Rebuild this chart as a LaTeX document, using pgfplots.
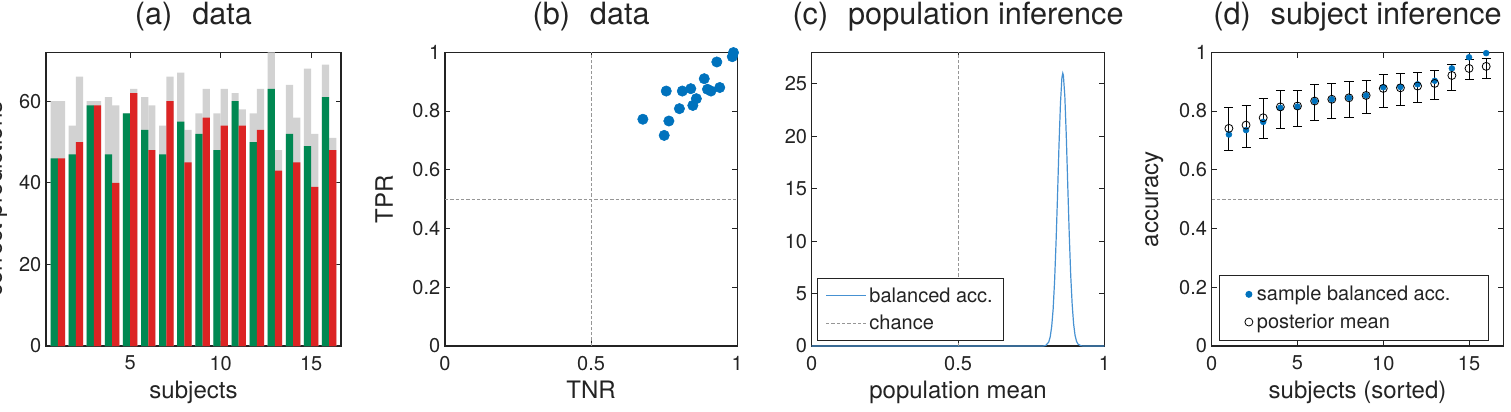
\documentclass[border=0pt]{standalone}
\usepackage{fontspec}
\setmainfont{TeX Gyre Heros}
\usepackage{pgfplots}
\usepackage{pgfplotstable}
\pgfplotsset{compat=1.18}
\definecolor{mgreen}{RGB}{0,136,82}
\definecolor{mred}{RGB}{220,36,36}
\definecolor{mgray}{RGB}{210,210,210}
\definecolor{mblue}{RGB}{0,114,189}
\definecolor{lblue}{RGB}{70,145,210}
\definecolor{dgray}{RGB}{150,150,150}
\definecolor{txt}{RGB}{35,35,35}

\pgfplotstableread{
x g gg r rg
1 46 60 46 60
2 47 54 50 66
3 59 60 59 60
4 47 61 40 59
5 57 57 62 63
6 53 61 48 59
7 47 54 60 66
8 55 67 45 53
9 52 57 56 63
10 48 57 54 63
11 60 62 54 58
12 50 57 53 63
13 63 72 43 48
14 52 64 45 56
15 49 68 39 52
16 61 69 48 51
}\bars

\pgfplotstableread{
tnr tpr
0.677 0.772
0.750 0.717
0.766 0.766
0.757 0.868
0.802 0.808
0.812 0.868
0.841 0.876
0.860 0.842
0.848 0.819
0.887 0.910
0.898 0.874
0.910 0.868
0.940 0.880
0.930 0.967
0.983 0.985
0.987 0.999
}\roc

\pgfplotstableread{
x y
0 0
0.79 0
0.80 0.05
0.81 0.38
0.815 0.87
0.82 1.84
0.825 3.5
0.83 6.2
0.835 9.9
0.84 14.3
0.845 19.1
0.85 23.1
0.855 25.6
0.858 26.0
0.86 25.8
0.865 23.8
0.87 20.0
0.875 15.3
0.88 10.7
0.885 6.8
0.89 4.0
0.895 2.1
0.90 1.0
0.905 0.45
0.91 0.18
0.92 0.02
0.93 0
1 0
}\post

\pgfplotstableread{
x s m ep em
1 0.720 0.741 0.071 0.076
2 0.735 0.752 0.068 0.076
3 0.763 0.777 0.066 0.072
4 0.811 0.814 0.057 0.073
5 0.815 0.817 0.054 0.070
6 0.834 0.834 0.056 0.067
7 0.840 0.840 0.054 0.067
8 0.845 0.845 0.055 0.067
9 0.853 0.853 0.052 0.063
10 0.881 0.877 0.046 0.064
11 0.882 0.879 0.048 0.059
12 0.891 0.885 0.047 0.056
13 0.903 0.894 0.043 0.056
14 0.945 0.921 0.036 0.050
15 0.983 0.945 0.032 0.039
16 0.997 0.952 0.026 0.042
}\subj

\pgfplotsset{
  mystyle/.style={
    scale only axis, height=220.3pt, anchor=north west,
    axis line style={line width=0.8pt, txt},
    tick style={txt, line width=0.6pt},
    major tick length=4pt, tick align=inside,
    every tick label/.append style={font=\fontsize{15}{15}\selectfont, text=txt},
    xticklabel style={yshift=-4pt},
    label style={font=\fontsize{18}{18}\selectfont, text=txt},
    title style={font=\fontsize{23}{23}\selectfont, text=txt, at={(0.5,1)}, anchor=base, yshift=15pt},
    xlabel style={at={(axis description cs:0.5,-0.18)}, anchor=base},
    /pgf/number format/assume math mode=true,
    legend cell align=left,
  },
  chance/.style={dgray, line width=0.7pt, dash pattern=on 2.5pt off 1.5pt},
  dotlegend/.style={legend image code/.code={\path[draw=none, fill=none] (0pt,-3pt) rectangle (19pt,3pt); \draw[##1] plot coordinates {(15pt,0pt)};}},
}

\begin{document}
\begin{tikzpicture}
\useasboundingbox (0pt,0pt) rectangle (1133.25pt,-308.25pt);

% (a)
\begin{axis}[mystyle, at={(34.5pt,-39.2pt)}, width=221.25pt,
  xmin=0.35, xmax=16.65, ymin=0, ymax=72,
  xtick={5,10,15}, ytick={0,20,40,60},
  title={(a)\hspace{0.65em}data}, xlabel={subjects}, ylabel={correct predictions},
  ylabel style={at={(axis description cs:-0.15,0.5)}, anchor=base}]
\addplot[ybar, bar width=0.4, bar shift=-0.2, fill=mgray, draw=none] table[x=x,y=gg] {\bars};
\addplot[ybar, bar width=0.4, bar shift=0.2, fill=mgray, draw=none] table[x=x,y=rg] {\bars};
\addplot[ybar, bar width=0.4, bar shift=-0.2, fill=mgreen, draw=none] table[x=x,y=g] {\bars};
\addplot[ybar, bar width=0.4, bar shift=0.2, fill=mred, draw=none] table[x=x,y=r] {\bars};
\end{axis}

% (b)
\begin{axis}[mystyle, at={(333.75pt,-39.2pt)}, width=219.2pt,
  xmin=0, xmax=1, ymin=0, ymax=1, clip=false,
  xtick={0,0.5,1}, ytick={0,0.2,0.4,0.6,0.8,1},
  title={(b)\hspace{0.65em}data}, xlabel={TNR}, ylabel={TPR},
  ylabel style={at={(axis description cs:-0.178,0.5)}, anchor=base}]
\addplot[chance] coordinates {(0.5,0) (0.5,1)};
\addplot[chance] coordinates {(0,0.5) (1,0.5)};
\addplot[only marks, mark=*, mark size=3.9pt, mark options={fill=mblue, draw=mblue}] table[x=tnr,y=tpr] {\roc};
\end{axis}

% (c)
\begin{axis}[mystyle, at={(608.8pt,-39.2pt)}, width=219.45pt,
  xmin=0, xmax=1, ymin=0, ymax=28,
  xtick={0,0.5,1}, ytick={0,5,10,15,20,25},
  title={(c)\hspace{0.65em}population inference}, xlabel={population mean},
  legend image code/.code={\draw[#1] (0pt,0pt) -- (30pt,0pt);},
  legend style={at={(0.018,0.016)}, anchor=south west, draw=txt, line width=0.8pt,
    font=\fontsize{15}{15}\selectfont, text=txt, row sep=4pt, inner xsep=6pt, inner ysep=5pt}]
\addplot[lblue, line width=0.9pt] table[x=x,y=y] {\post};
\addlegendentry{balanced acc.}
\addplot[chance] coordinates {(0.5,0) (0.5,28)};
\addlegendentry{chance}
\end{axis}

% (d)
\begin{axis}[mystyle, at={(908.8pt,-39.2pt)}, width=218.7pt,
  xmin=0, xmax=17, ymin=0, ymax=1, clip=false,
  xtick={0,5,10,15}, ytick={0,0.2,0.4,0.6,0.8,1},
  title={(d)\hspace{0.65em}subject inference}, xlabel={subjects (sorted)}, ylabel={accuracy},
  ylabel style={at={(axis description cs:-0.184,0.5)}, anchor=base},
  legend style={at={(0.025,0.016)}, anchor=south west, draw=txt, line width=0.8pt,
    font=\fontsize{15}{15}\selectfont, text=txt, row sep=4.5pt, inner xsep=7pt, inner ysep=6pt}]
\addplot[chance, forget plot] coordinates {(0,0.5) (17,0.5)};
\addplot[only marks, dotlegend, mark=*, mark size=2.2pt, mark options={fill=mblue, draw=mblue}] table[x=x,y=s] {\subj};
\addlegendentry{\makebox[165pt][l]{sample balanced acc.}}
\addplot[only marks, dotlegend, mark=o, mark size=3pt, mark options={draw=black, line width=0.6pt},
  error bars/.cd, y dir=both, y explicit,
  error bar style={black, line width=0.7pt},
  error mark options={rotate=90, mark size=3.4pt, black, line width=0.7pt}]
  table[x=x, y=m, y error plus=ep, y error minus=em] {\subj};
\addlegendentry{posterior mean}
\end{axis}
\end{tikzpicture}
\end{document}
